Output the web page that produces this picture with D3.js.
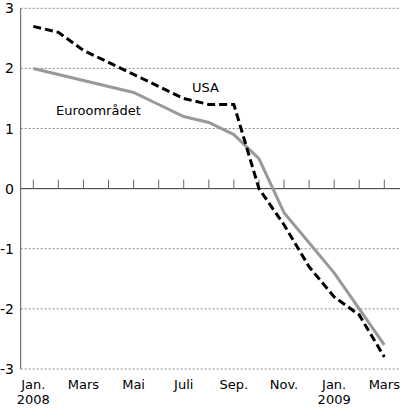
<!DOCTYPE html>
<html><head><meta charset="utf-8">
<script src="https://cdn.jsdelivr.net/npm/d3@7"></script>
<style>body{margin:0;background:#fff}text{font-family:"DejaVu Sans",sans-serif}</style>
</head><body><div id="chart"></div>
<script>
const months = ["Jan.\n2008","","Mars","","Mai","","Juli","","Sep.","","Nov.","","Jan.\n2009","","Mars"];
const usa = [2.7,2.6,2.3,2.1,1.9,1.7,1.5,1.4,1.4,0.0,-0.6,-1.3,-1.8,-2.1,-2.8];
const euro = [2.0,1.9,1.8,1.7,1.6,1.4,1.2,1.1,0.9,0.5,-0.4,-0.9,-1.4,-2.0,-2.6];
const yTicks = [3,2,1,0,-1,-2,-3];

const W = 400, H = 408;
const svg = d3.select("#chart").append("svg").attr("width", W).attr("height", H);

const x = d3.scaleLinear().domain([0, 14]).range([33.3, 384.3]);
const y = d3.scaleLinear().domain([-3, 3]).range([369, 8.3]);
const left = 20.7, right = 400;

// grid
svg.append("g").selectAll("line").data(yTicks.filter(d => d !== 0)).enter().append("line")
	.attr("x1", left).attr("x2", right).attr("y1", d => y(d)).attr("y2", d => y(d))
	.attr("stroke", "#555").attr("stroke-width", 0.7).attr("stroke-dasharray", "2,2");

// left axis
svg.append("line").attr("x1", left).attr("x2", left).attr("y1", y(3)).attr("y2", y(-3))
	.attr("stroke", "#555").attr("stroke-width", 1);
svg.append("g").selectAll("text").data(yTicks).enter().append("text")
	.attr("x", 14).attr("y", d => y(d) + 5).attr("text-anchor", "end")
	.attr("font-size", 14).text(d => d);

// zero line and ticks
svg.append("line").attr("x1", left).attr("x2", right).attr("y1", y(0)).attr("y2", y(0))
	.attr("stroke", "#333").attr("stroke-width", 1);
svg.append("g").selectAll("line").data(months).enter().append("line")
	.attr("x1", (d, i) => x(i)).attr("x2", (d, i) => x(i))
	.attr("y1", y(0)).attr("y2", y(0) - 9).attr("stroke", "#666").attr("stroke-width", 1);

// month labels
const lab = svg.append("g").selectAll("text").data(months).enter().append("text")
	.attr("x", (d, i) => x(i)).attr("y", 389).attr("text-anchor", "middle").attr("font-size", 13);
lab.each(function(d) {
	d.split("\n").forEach((s, k) => d3.select(this).append("tspan")
		.attr("x", d3.select(this).attr("x")).attr("dy", k ? 15 : 0).text(s));
});

const line = d3.line().x((d, i) => x(i)).y(d => y(d));
svg.append("path").datum(euro).attr("d", line).attr("fill", "none")
	.attr("stroke", "#999").attr("stroke-width", 3);
svg.append("path").datum(usa).attr("d", line).attr("fill", "none")
	.attr("stroke", "#000").attr("stroke-width", 3).attr("stroke-dasharray", "8,4");

svg.append("text").attr("x", 192).attr("y", 92).attr("font-size", 13).text("USA");
svg.append("text").attr("x", 56).attr("y", 115).attr("font-size", 13).text("Euroområdet");
</script></body></html>
